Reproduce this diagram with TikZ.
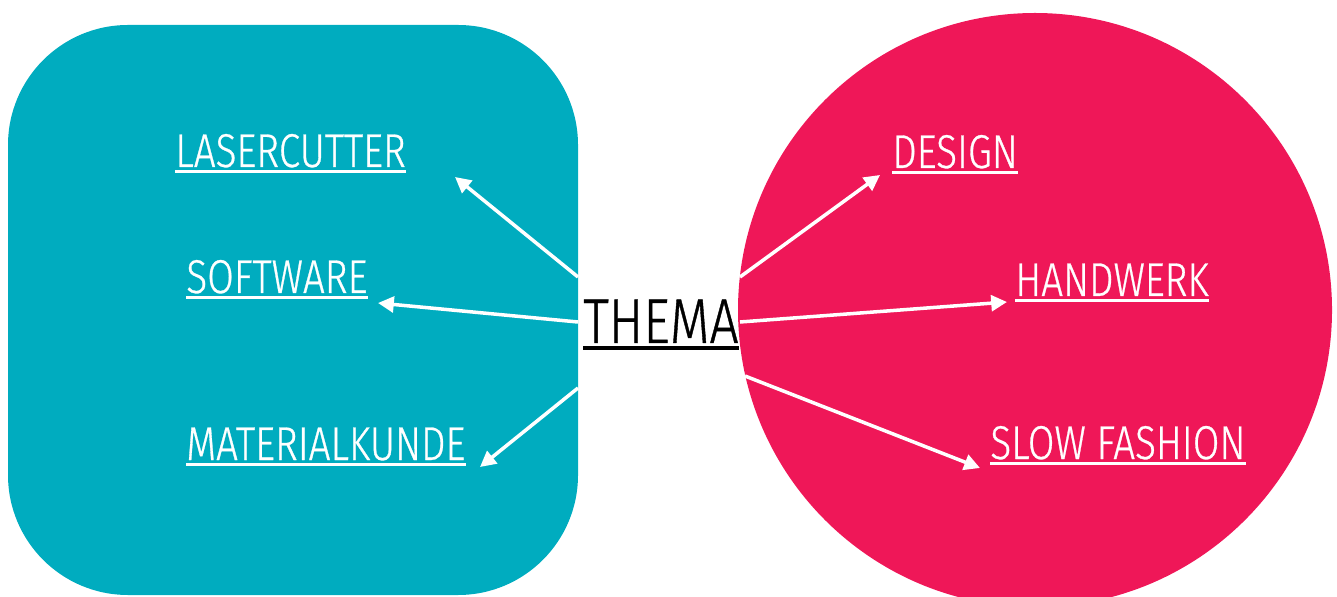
\documentclass[tikz,border=0pt]{standalone}
\usepackage{fontspec}
\setmainfont{Fira Sans Light}[FakeStretch=0.815, FakeBold=0.6]
\usepackage{tikz}
\usetikzlibrary{arrows.meta}
\definecolor{tealbox}{HTML}{00ACBF}
\definecolor{pinkdot}{HTML}{EF1758}

\begin{document}
\begin{tikzpicture}[x=0.02cm, y=-0.02cm,
    lbl/.style={text=white, inner sep=0pt, anchor=base west, font=\fontsize{27}{30}\selectfont},
    uline/.style={white, line width=1.7pt},
    arr/.style={white, line width=2pt, -{Triangle[length=9pt,width=9pt]}}]
    \useasboundingbox (0,0) rectangle (1337,597);

    % the two fields
    \fill[tealbox, rounded corners=2.4cm] (8,25) rectangle (578,595);
    \fill[pinkdot] (1035,310) circle (297);

    % labels
    \node[lbl] (laser) at (175,167) {LASERCUTTER};
    \node[lbl] (soft) at (186,293) {SOFTWARE};
    \node[lbl] (mat) at (186,460) {MATERIALKUNDE};
    \node[lbl] (design) at (892,168) {DESIGN};
    \node[lbl] (hand) at (1015,296) {HANDWERK};
    \node[lbl] (slow) at (990,459) {SLOW FASHION};
    \node[lbl, text=black, font=\fontsize{36}{40}\selectfont] (thema) at (583,343) {THEMA};

    \foreach \n in {laser,soft,mat,design,hand,slow}
        \draw[uline] ([yshift=-2.8pt]\n.base west) -- ([yshift=-2.8pt]\n.base east);
    \draw[black, line width=2.3pt] ([yshift=-2.8pt]thema.base west) -- ([yshift=-2.8pt]thema.base east);

    % arrow ends
    \coordinate (A) at (578,277);
    \coordinate (B) at (578,322);
    \coordinate (C) at (578,388);
    \coordinate (D) at (740,277);
    \coordinate (E) at (740,322);
    \coordinate (F) at (745,376);
    \coordinate (a) at (455,177);
    \coordinate (b) at (378,303);
    \coordinate (c) at (480,467);
    \coordinate (d) at (880,175);
    \coordinate (e) at (1007,302);
    \coordinate (f) at (980,468);

    \draw[arr] (A) -- (a);
    \draw[arr] (B) -- (b);
    \draw[arr] (C) -- (c);
    \draw[arr] (D) -- (d);
    \draw[arr] (E) -- (e);
    \draw[arr] (F) -- (f);
\end{tikzpicture}
\end{document}
